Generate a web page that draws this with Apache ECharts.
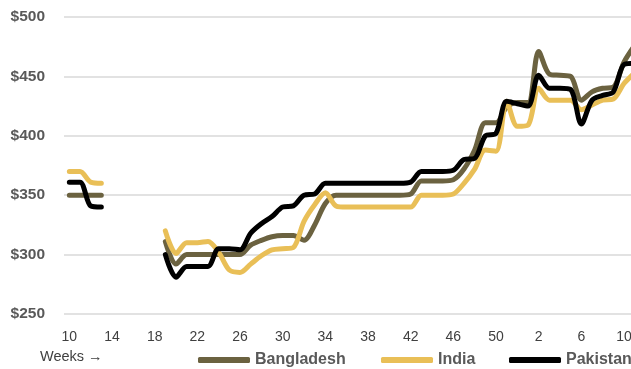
<!DOCTYPE html>
<html>
<head>
<meta charset="utf-8">
<script src="https://cdn.jsdelivr.net/npm/echarts@6/dist/echarts.min.js"></script>
<style>
  html, body { margin: 0; padding: 0; background: #ffffff; overflow: hidden; }
  #chart { width: 641px; height: 369px; }
</style>
</head>
<body>
<div id="chart"></div>
<script>
// Week numbers: week 10 of one year through week 11 of the next
const weeks = [
  '10','11','12','13','14','15','16','17','18','19','20','21','22','23','24','25','26','27','28','29',
  '30','31','32','33','34','35','36','37','38','39','40','41','42','43','44','45','46','47','48','49',
  '50','51','52','1','2','3','4','5','6','7','8','9','10','11'
];

// Weekly prices in US$ (null = no quote that week)
const bangladesh = [
  350, 350, 350, 350, null, null, null, null, null, 311, 292, 300, 300, 300, 300, 300, 300, 308, 312, 315,
  316, 316, 312, 325, 343, 350, 350, 350, 350, 350, 350, 350, 351, 362, 362, 362, 363, 372, 388, 411,
  411, 424, 428, 428, 471, 452, 451, 450, 430, 437, 440, 441, 462, 476
];
const india = [
  370, 370, 361, 360, null, null, null, null, null, 320, 301, 310, 310, 311, 302, 287, 285, 292, 299, 304,
  305, 306, 328, 342, 352, 341, 340, 340, 340, 340, 340, 340, 340, 350, 350, 350, 351, 360, 372, 388,
  387, 429, 408, 409, 440, 430, 430, 430, 422, 426, 430, 431, 444, 453
];
const pakistan = [
  361, 361, 341, 340, null, null, null, null, null, 300, 281, 290, 290, 290, 305, 305, 304, 318, 326, 332,
  340, 341, 350, 351, 360, 360, 360, 360, 360, 360, 360, 360, 361, 370, 370, 370, 371, 380, 381, 400,
  402, 429, 427, 425, 451, 440, 440, 439, 410, 430, 434, 437, 460, 461
];

const seriesNames = ['Bangladesh', 'India', 'Pakistan'];
const seriesColors = ['#6b6240', '#e9bf57', '#000000'];
const seriesData = [bangladesh, india, pakistan];

const chart = echarts.init(document.getElementById('chart'), null, { renderer: 'canvas' });

const legendLeft = [193, 376, 504];

const option = {
  animation: false,
  backgroundColor: '#ffffff',
  grid: { left: 64, top: 17, width: 576, height: 297, containLabel: false },
  xAxis: {
    type: 'category',
    data: weeks,
    boundaryGap: true,
    axisLine: { show: false },
    axisTick: { show: false },
    axisLabel: {
      interval: 3,
      margin: 16,
      color: '#404040',
      fontFamily: 'Liberation Sans',
      fontSize: 14
    },
    splitLine: { show: false }
  },
  yAxis: {
    type: 'value',
    min: 250,
    max: 500,
    interval: 50,
    axisLine: { show: false },
    axisTick: { show: false },
    axisLabel: {
      margin: 19,
      color: '#595959',
      fontFamily: 'Liberation Sans',
      fontWeight: 'bold',
      fontSize: 15.5,
      formatter: v => '$' + v
    },
    splitLine: { lineStyle: { color: '#d9d9d9', width: 1.5 } }
  },
  legend: seriesNames.map((name, i) => ({
    data: [name],
    left: legendLeft[i],
    top: 347,
    icon: 'roundRect',
    itemWidth: 52,
    itemHeight: 6,
    itemGap: 0,
    textStyle: {
      color: '#595959',
      fontFamily: 'Liberation Sans',
      fontWeight: 'bold',
      fontSize: 16
    }
  })),
  graphic: [{
    type: 'text',
    left: 40,
    top: 349,
    style: {
      text: 'Weeks \u2192',
      fill: '#404040',
      font: '14.5px "Liberation Sans"'
    }
  }],
  series: seriesNames.map((name, i) => ({
    name: name,
    type: 'line',
    data: seriesData[i],
    smooth: 0.3,
    connectNulls: false,
    symbol: 'none',
    color: seriesColors[i],
    lineStyle: { color: seriesColors[i], width: 5, cap: 'round', join: 'round' },
    emphasis: { disabled: true }
  }))
};

chart.setOption(option);
</script>
</body>
</html>
